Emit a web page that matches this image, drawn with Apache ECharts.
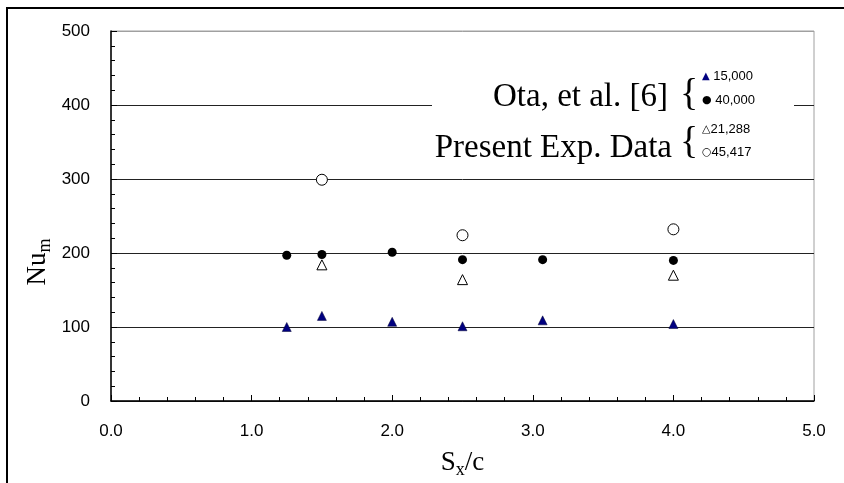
<!DOCTYPE html>
<html>
<head>
<meta charset="utf-8">
<script src="https://cdn.jsdelivr.net/npm/echarts@6/dist/echarts.min.js"></script>
<style>
html,body{margin:0;padding:0;background:#fff;}
#chart{width:844px;height:483px;}
</style>
</head>
<body>
<div id="chart"></div>
<script>
// Data
const otaRe15000 = [[1.25,100],[1.5,115],[2.0,107],[2.5,101],[3.07,109],[4.0,104]];
const otaRe40000 = [[1.25,197],[1.5,198],[2.0,201],[2.5,191],[3.07,191],[4.0,190]];
const presentRe21288 = [[1.5,184],[2.5,164],[4.0,170]];
const presentRe45417 = [[1.5,299],[2.5,224],[4.0,232]];
const legendLabels = ['15,000','40,000','21,288','45,417'];
const groupLabels = ['Ota, et al. [6]','Present Exp. Data'];

const chart = echarts.init(document.getElementById('chart'), null, {renderer:'canvas'});
const sans = 'Liberation Sans, Arial, sans-serif';
const serif = 'Liberation Serif, Times New Roman, serif';

const option = {
  backgroundColor:'#fff',
  animation:false,
  grid:{left:111,right:30,top:31,bottom:82,show:true,borderColor:'#a0a0a0',borderWidth:1,backgroundColor:'transparent',containLabel:false,outerBoundsMode:'none'},
  xAxis:{
    type:'value',min:0,max:5,interval:1,
    name:'{a|S}{s|x}{a|/c}',nameLocation:'middle',nameGap:46,
    nameTextStyle:{rich:{a:{fontFamily:serif,fontSize:27,color:'#000'},s:{fontFamily:serif,fontSize:18,color:'#000',padding:[14,0,0,0]}}},
    axisLine:{show:true,onZero:false,lineStyle:{color:'#000',width:1.5}},
    axisTick:{show:true,inside:true,length:6,lineStyle:{color:'#000'}},
    minorTick:{show:true,splitNumber:5,length:4,lineStyle:{color:'#000'}},
    axisLabel:{fontFamily:sans,fontSize:17,color:'#000',margin:22,formatter:v=>v.toFixed(1)},
    splitLine:{show:false}
  },
  yAxis:{
    type:'value',min:0,max:500,interval:100,
    axisLine:{show:true,onZero:false,lineStyle:{color:'#000',width:1.5}},
    axisTick:{show:true,inside:true,length:6,lineStyle:{color:'#000'}},
    minorTick:{show:true,splitNumber:5,length:4,lineStyle:{color:'#000'}},
    axisLabel:{fontFamily:sans,fontSize:17,color:'#000',margin:21},
    splitLine:{show:true,lineStyle:{color:['#222','#222','#222','#222','#222','#a0a0a0'],width:1}}
  },
  series:[
    {name:groupLabels[0]+' '+legendLabels[0],type:'scatter',data:otaRe15000,symbol:'triangle',symbolSize:9,
     itemStyle:{color:'#000080',borderColor:'#000033',borderWidth:0.5,opacity:1},z:3},
    {name:groupLabels[0]+' '+legendLabels[1],type:'scatter',data:otaRe40000,symbol:'circle',symbolSize:9,
     itemStyle:{color:'#000',opacity:1},z:3},
    {name:groupLabels[1]+' '+legendLabels[2],type:'scatter',data:presentRe21288,symbol:'triangle',symbolSize:10,
     itemStyle:{color:'#fff',borderColor:'#000',borderWidth:1,opacity:1},z:3},
    {name:groupLabels[1]+' '+legendLabels[3],type:'scatter',data:presentRe45417,symbol:'circle',symbolSize:11,
     itemStyle:{color:'#fff',borderColor:'#000',borderWidth:1,opacity:1},z:3}
  ],
  graphic:[
    {type:'rect',shape:{x:7,y:8,width:860,height:500},style:{fill:'none',stroke:'#000',lineWidth:2},z:0,silent:true},
    {type:'text',x:38,y:262,rotation:Math.PI/2,z:11,
     style:{text:'{a|Nu}{s|m}',align:'center',verticalAlign:'middle',
            rich:{a:{fontFamily:serif,fontSize:27,fill:'#000'},s:{fontFamily:serif,fontSize:18,fill:'#000',padding:[14,0,0,0]}}}},
    {type:'rect',shape:{x:432,y:66,width:362,height:110},style:{fill:'#fff'},z:10},
    {type:'text',right:176,top:81,z:11,style:{text:groupLabels[0],font:'33px '+serif,fill:'#000'}},
    {type:'text',left:680,top:76,z:11,style:{text:'{',font:'38px '+serif,fill:'#000'}},
    {type:'text',left:702,top:70,z:11,style:{text:'{m|▲} '+legendLabels[0],font:'13px '+sans,fill:'#000',rich:{m:{fontFamily:'DejaVu Sans',fontSize:10,fill:'#000080'}}}},
    {type:'text',left:702,top:94,z:11,style:{text:'{m|●} '+legendLabels[1],font:'13px '+sans,fill:'#000',rich:{m:{fontFamily:'DejaVu Sans',fontSize:11,fill:'#000'}}}},
    {type:'text',right:172,top:132,z:11,style:{text:groupLabels[1],font:'33px '+serif,fill:'#000'}},
    {type:'text',left:680,top:124,z:11,style:{text:'{',font:'38px '+serif,fill:'#000'}},
    {type:'text',left:702,top:123,z:11,style:{text:'{m|△}'+legendLabels[2],font:'13px '+sans,fill:'#000',rich:{m:{fontFamily:'DejaVu Sans',fontSize:11,fill:'#000'}}}},
    {type:'text',left:702,top:146,z:11,style:{text:'{m|○}'+legendLabels[3],font:'13px '+sans,fill:'#000',rich:{m:{fontFamily:'DejaVu Sans',fontSize:11,fill:'#000'}}}}
  ]
};
chart.setOption(option);
</script>
</body>
</html>
